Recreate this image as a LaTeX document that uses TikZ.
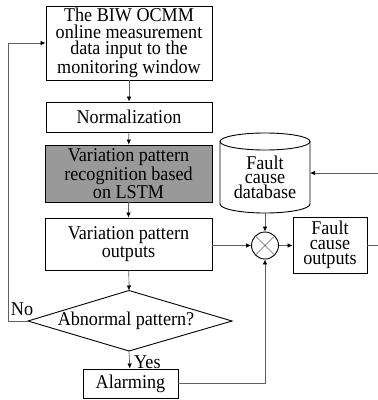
\documentclass[tikz,border=0pt]{standalone}
\usepackage{fontspec}
\setmainfont{Liberation Serif}[FakeStretch=0.93]
\usetikzlibrary{arrows.meta}
\begin{document}
\begin{tikzpicture}[x=1pt,y=-1pt,
  txt/.style={font=\fontsize{19.5}{16.5}\selectfont},
  box/.style={draw=black, line width=0.9pt, inner sep=0pt, align=center, txt},
  conn/.style={draw=gray!75!black, line width=0.7pt},
  arr/.style={conn, -{Latex[length=5pt,width=4.5pt,black]}},
  lbl/.style={txt, inner sep=0pt}]
\useasboundingbox (0,0) rectangle (378,400);
% main column
\node[box, minimum width=166pt, minimum height=74pt] (b1) at (129,43) {The BIW OCMM\\online measurement\\data input to the\\monitoring window};
\node[box, minimum width=166pt, minimum height=30pt] (norm) at (129,117) {Normalization};
\node[box, minimum width=167pt, minimum height=57pt, fill={rgb,255:red,153;green,153;blue,153}] (lstm) at (128.5,173.5) {Variation pattern\\recognition based\\on LSTM};
\node[box, minimum width=167pt, minimum height=52pt, font=\fontsize{19.5}{18.5}\selectfont] (vpo) at (128.5,244) {Variation pattern\\outputs};
% diamond
\coordinate (dt) at (129,290.5);
\coordinate (dl) at (28,321);
\coordinate (dr) at (232,321);
\coordinate (db) at (129,351);
\draw[line width=0.9pt] (dt) -- (dr) -- (db) -- (dl) -- cycle;
\node[lbl] (dia) at (126,321) {Abnormal pattern?};
\node[box, minimum width=95pt, minimum height=29pt] (alarm) at (130.5,383.5) {Alarming};
% cylinder
\draw[line width=0.9pt] (265,141.5) ellipse [x radius=45, y radius=8.5];
\draw[line width=0.9pt] (220,141.5) -- (220,204) arc[start angle=180, end angle=0, x radius=45, y radius=9] -- (310,141.5);
\node[lbl, align=center, font=\fontsize{19.5}{14.5}\selectfont] (cyl) at (265,177) {Fault\\cause\\database};
\coordinate (cylR) at (310,173);
\coordinate (cylB) at (265,213);
\coordinate (inR) at (378,173);
% circle
\node[circle, draw, line width=0.9pt, minimum size=27pt, inner sep=0pt] (cx) at (265,245.5) {};
\draw[conn] (cx.north east) -- (cx.south west) (cx.north west) -- (cx.south east);
\node[box, minimum width=74pt, minimum height=56pt, font=\fontsize{19.5}{15}\selectfont] (fco) at (330,245) {Fault\\cause\\outputs};
\coordinate (outR) at (378,245);
% connectors
\draw[arr] (b1) -- (norm);
\draw[arr] (norm) -- (lstm);
\draw[arr] (lstm) -- (vpo);
\draw[arr] (vpo) -- (dt);
\draw[arr] (db) -- (alarm);
\node[lbl, anchor=west] (yes) at (134,362) {Yes};
\coordinate (fbL) at (8,321);
\coordinate (fbT) at (8,43);
\draw[arr] (dl) -- (fbL) -- (fbT) -- (b1.west);
\node[lbl] (no) at (22,309) {No};
\draw[arr] (alarm.east) -| (cx.south);
\draw[arr] (vpo.east |- cx.west) -- (cx.west);
\draw[arr] (cx.east) -- (fco.west |- cx.east);
\draw[arr] (cylB) -- (cx.north);
\draw[arr] (inR) -- (cylR);
\draw[conn] (fco.east) -- (outR);
\end{tikzpicture}
\end{document}
